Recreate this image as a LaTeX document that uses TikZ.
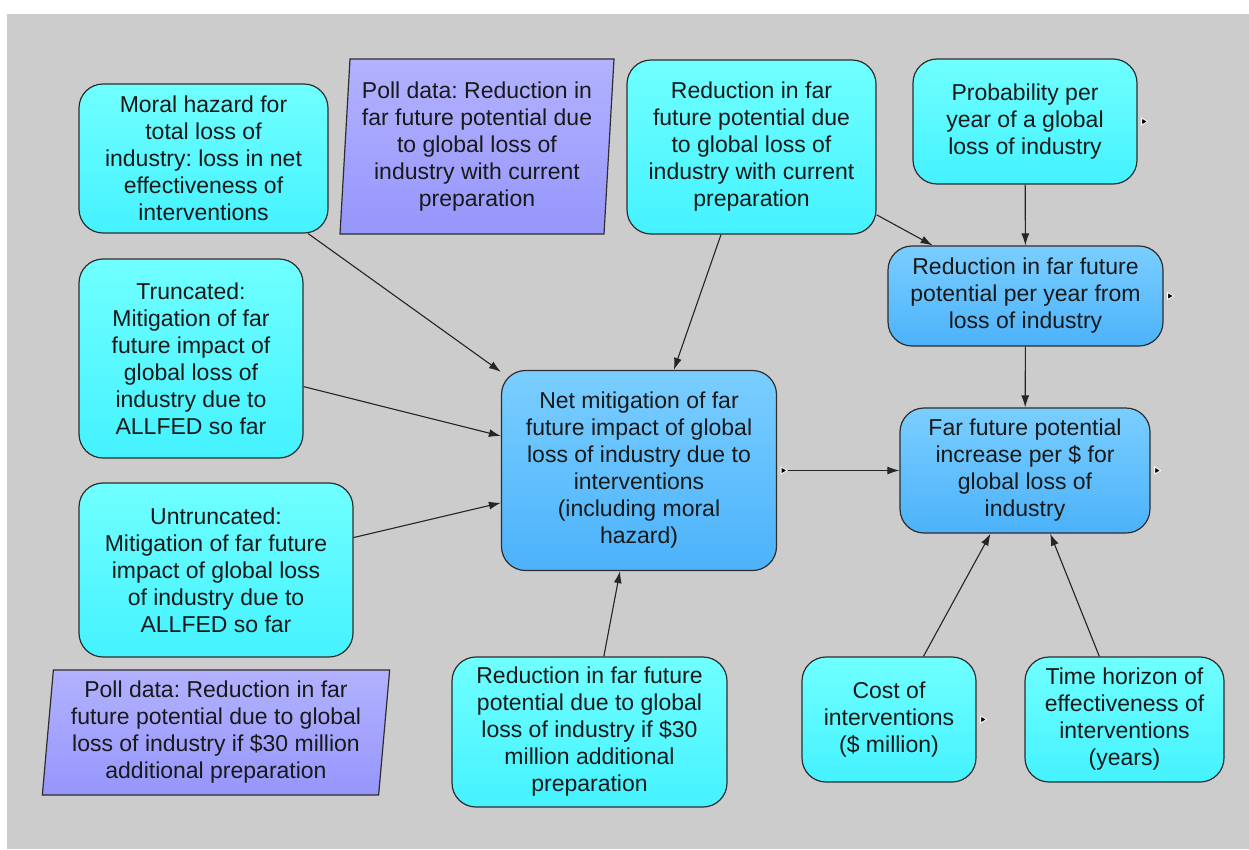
\documentclass[tikz,border=0pt]{standalone}
\usepackage{fontspec}
\setmainfont{Liberation Sans}
\frenchspacing
\usetikzlibrary{arrows.meta,shapes.geometric}
\tikzset{>={Latex[length=12pt,width=8pt]}}
\definecolor{mygray}{RGB}{204,204,204}
\definecolor{mycyantop}{RGB}{112,255,255}
\definecolor{mycyanbot}{RGB}{68,242,255}
\definecolor{mybluetop}{RGB}{122,206,255}
\definecolor{mybluebot}{RGB}{76,178,250}
\definecolor{mylilactop}{RGB}{178,178,255}
\definecolor{mylilacbot}{RGB}{150,150,252}
\definecolor{myedge}{RGB}{45,45,45}
\definecolor{mytext}{RGB}{25,25,25}

\tikzset{
  every node/.style={font=\fontsize{23}{27}\selectfont, text=mytext,
    align=center, inner sep=0pt},
  var/.style={draw=myedge, line width=1.2pt, rounded corners=24pt,
    top color=mycyantop, bottom color=mycyanbot},
  calc/.style={var, top color=mybluetop, bottom color=mybluebot},
  polldata/.style={trapezium, trapezium stretches=true,
    draw=myedge, line width=1.2pt,
    top color=mylilactop, bottom color=mylilacbot},
  link/.style={->, line width=1.1pt, draw=black!85, fill=black!85}
}

% small output markers
\newcommand{\outmark}[1]{%
  \filldraw[draw=white, fill=black, line width=0.8pt]
    ([xshift=4pt]#1.east) ++(0,-3.5) -- ++(6,3.5) -- ++(-6,3.5) -- cycle;}

\begin{document}
\begin{tikzpicture}[x=1pt,y=-1pt]

  % background
  \useasboundingbox (0,0) rectangle (1249,849);
  \fill[white] (0,0) rectangle (1249,849);
  \fill[mygray] (7,14) rectangle (1249,849);

  % left column
  \node[var, minimum width=249pt, minimum height=149pt] (moral)
    at (203.5,158.5) {Moral hazard for\\total loss of\\industry: loss in net\\effectiveness of\\interventions};
  \node[var, minimum width=224pt, minimum height=199pt] (trunc)
    at (191,358.5) {Truncated:\\Mitigation of far\\future impact of\\global loss of\\industry due to\\ALLFED so far};
  \node[var, minimum width=274pt, minimum height=174pt] (untrunc)
    at (216,570) {Untruncated:\\Mitigation of far future\\impact of global loss\\of industry due to\\ALLFED so far};
  \node[polldata, trapezium left angle=84.5, trapezium right angle=95.5,
    minimum width=348pt, minimum height=125pt] (pollthirty)
    at (216,732.5) {Poll data: Reduction in far\\future potential due to global\\loss of industry if \$30 million\\additional preparation};

  % middle
  \node[polldata, trapezium left angle=86, trapezium right angle=94,
    minimum width=275pt, minimum height=175pt] (pollnow)
    at (477,146.5) {Poll data: Reduction in\\far future potential due\\to global loss of\\industry with current\\preparation};
  \node[var, minimum width=249pt, minimum height=174pt] (redcur)
    at (751.5,147) {Reduction in far\\future potential due\\to global loss of\\industry with current\\preparation};
  \node[calc, minimum width=275pt, minimum height=200pt] (net)
    at (639,470.5) {Net mitigation of far\\future impact of global\\loss of industry due to\\interventions\\(including moral\\hazard)};
  \node[var, minimum width=275pt, minimum height=150pt] (redthirty)
    at (589.5,732) {Reduction in far future\\potential due to global\\loss of industry if \$30\\million additional\\preparation};

  % right column
  \node[var, minimum width=224pt, minimum height=125pt] (prob)
    at (1025,121.5) {Probability per\\year of a global\\loss of industry};
  \node[calc, minimum width=275pt, minimum height=100pt] (redyear)
    at (1025.5,296) {Reduction in far future\\potential per year from\\loss of industry};
  \node[calc, minimum width=250pt, minimum height=125pt] (far)
    at (1025,470.5) {Far future potential\\increase per \$ for\\global loss of\\industry};
  \node[var, minimum width=174pt, minimum height=125pt] (cost)
    at (889,719.5) {Cost of\\interventions\\(\$ million)};
  \node[var, minimum width=199pt, minimum height=125pt] (horizon)
    at (1124.5,719.5) {Time horizon of\\effectiveness of\\interventions\\(years)};

  % arrows
  \draw[link] (moral) -- (net);
  \draw[link] (trunc) -- (net);
  \draw[link] (untrunc) -- (net);
  \draw[link] (redcur) -- (net);
  \draw[link] (redthirty) -- (net);
  \draw[link] ([xshift=7pt]net.east) -- (far);
  \draw[link] (redcur) -- (redyear);
  \draw[link] (prob) -- (redyear);
  \draw[link] (redyear) -- (far);
  \draw[link] (cost) -- (far);
  \draw[link] (horizon) -- (far);

  % markers
  \outmark{prob}
  \outmark{redyear}
  \outmark{net}
  \outmark{far}
  \outmark{cost}

\end{tikzpicture}
\end{document}
